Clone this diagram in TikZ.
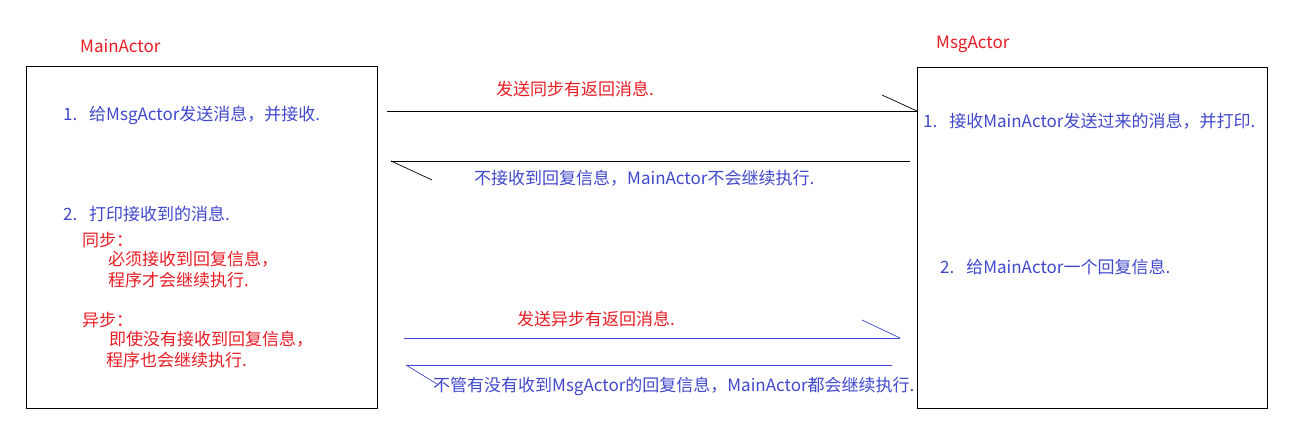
\documentclass[tikz,border=0pt]{standalone}
\usepackage{fontspec}
\setmainfont{Noto Sans CJK SC}
\definecolor{msgblue}{RGB}{64,72,204}
\definecolor{msgred}{RGB}{232,28,36}
\tikzset{
  actorbox/.style={draw,line width=1.2pt,anchor=north west,inner sep=0pt},
  txt/.style={font=\fontsize{17}{19}\selectfont,inner sep=0pt,anchor=west},
  bluetxt/.style={txt,text=msgblue},
  redtxt/.style={txt,text=msgred},
  msgline/.style={line width=0.9pt},
  halfhead/.style={line width=0.7pt}
}
\begin{document}
\begin{tikzpicture}[x=1pt,y=-1pt]
\useasboundingbox (0,0) rectangle (1289,431);
\node[actorbox,minimum width=351pt,minimum height=342pt] (mainbox) at (26,66) {};
\node[actorbox,minimum width=350pt,minimum height=341pt] (msgbox) at (917,67) {};
\node[redtxt] (mainname) at (80,46) {MainActor};
\node[redtxt] (msgname) at (936,44) {MsgActor};
\node[bluetxt] (main1) at (63,115) {1.\hspace{0.7em}给MsgActor发送消息，并接收.};
\node[bluetxt] (main2) at (63,214) {2.\hspace{0.7em}打印接收到的消息.};
\node[redtxt] (synchead) at (82,240) {同步：};
\node[redtxt] (sync1) at (108,259) {必须接收到回复信息，};
\node[redtxt] (sync2) at (108,280) {程序才会继续执行.};
\node[redtxt] (asynchead) at (82,320) {异步：};
\node[redtxt] (async1) at (109,339) {即使没有接收到回复信息，};
\node[redtxt] (async2) at (106,360) {程序也会继续执行.};
\node[bluetxt] (msg1) at (923,121) {1.\hspace{0.7em}接收MainActor发送过来的消息，并打印.};
\node[bluetxt] (msg2) at (940,267) {2.\hspace{0.7em}给MainActor一个回复信息.};
\node[redtxt] (synclabel) at (496,89) {发送同步有返回消息.};
\node[bluetxt] (synrlabel) at (474,178) {不接收到回复信息，MainActor不会继续执行.};
\node[redtxt] (asynclabel) at (517,319) {发送异步有返回消息.};
\node[bluetxt] (asynrlabel) at (433,386) {不管有没有收到MsgActor的回复信息，MainActor都会继续执行.};
\coordinate (synca) at (387,111);
\coordinate (syncb) at (917,111);
\coordinate (synctip) at (882,95);
\coordinate (syncra) at (910,161);
\coordinate (syncrb) at (391,161);
\coordinate (syncrtip) at (432,180);
\coordinate (asynca) at (404,338);
\coordinate (asyncb) at (900,338);
\coordinate (asynctip) at (862,320);
\coordinate (asyncra) at (892,365);
\coordinate (asyncrb) at (406,365);
\coordinate (asyncrtip) at (437,384);
\draw[msgline] (synca) -- (syncb);
\draw[halfhead] (synctip) -- (syncb);
\draw[msgline] (syncra) -- (syncrb);
\draw[halfhead] (syncrb) -- (syncrtip);
\draw[msgline,msgblue] (asynca) -- (asyncb);
\draw[halfhead,msgblue] (asynctip) -- (asyncb);
\draw[msgline,msgblue] (asyncra) -- (asyncrb);
\draw[halfhead,msgblue] (asyncrb) -- (asyncrtip);
\end{tikzpicture}
\end{document}
